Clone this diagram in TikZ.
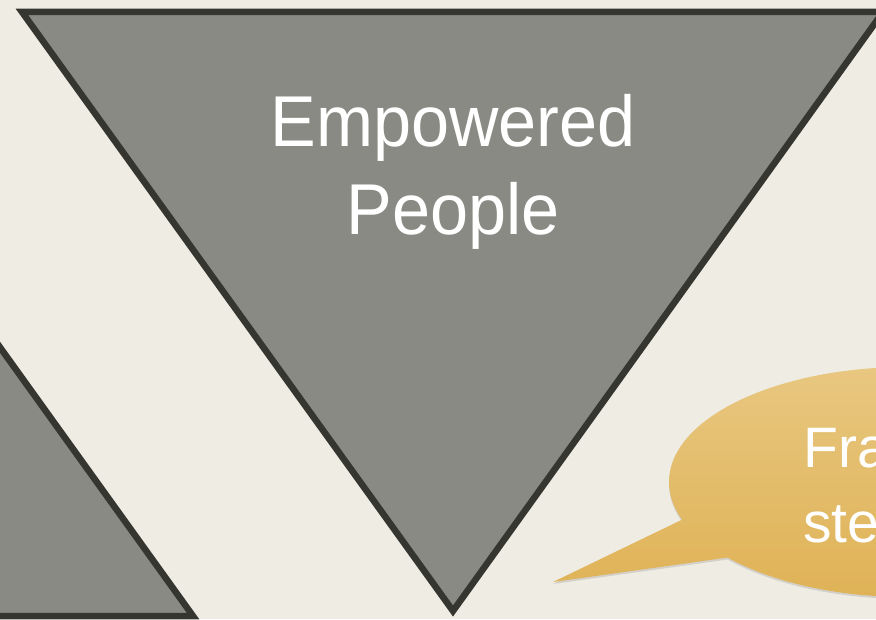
\documentclass[tikz,border=0pt]{standalone}
\usepackage{fontspec}
\setmainfont{Liberation Sans}
\usetikzlibrary{shadows}
\definecolor{bg}{RGB}{239,236,228}
\definecolor{trifill}{RGB}{138,138,132}
\definecolor{tristroke}{RGB}{54,54,48}
\definecolor{bubtop}{RGB}{232,199,128}
\definecolor{bubmid}{RGB}{237,195,106}
\definecolor{bubbot}{RGB}{223,178,86}
\tikzset{
  tri/.style={fill=trifill, draw=tristroke, line width=6.5pt, line join=miter},
  bigtext/.style={text=white, font=\fontsize{72}{80}\selectfont, anchor=base, inner sep=0pt},
  bubtext/.style={text=white, font=\fontsize{57}{64}\selectfont, anchor=base west, inner sep=0pt}
}
\begin{document}
\begin{tikzpicture}[x=1pt,y=1pt]
\useasboundingbox (0,0) rectangle (876,619);
\fill[bg] (0,0) rectangle (876,619);
\begin{scope}
\clip (0,0) rectangle (876,619);
% left upright triangle (partially visible)
\draw[tri] (-238,603) -- (193,3) -- (-669,3) -- cycle;
% main inverted triangle
\draw[tri] (22,607) -- (883,607) -- (453,8) -- cycle;
% speech bubble
\shade[top color=bubtop, middle color=bubmid, bottom color=bubbot,
  drop shadow={opacity=0.25, shadow xshift=0pt, shadow yshift=-2pt}]
  (907,137) ellipse [x radius=238, y radius=115]
  (700,108) -- (553,37) -- (760,66) -- cycle;
\node[bubtext] (fra) at (803,151) {Fra};
\node[bubtext] (ste) at (803,76) {ste};
\end{scope}
\node[bigtext] (emp) at (453,472) {\scalebox{0.95}[1]{Empowered}};
\node[bigtext] (peo) at (453,384) {\scalebox{0.95}[1]{People}};
\end{tikzpicture}
\end{document}
